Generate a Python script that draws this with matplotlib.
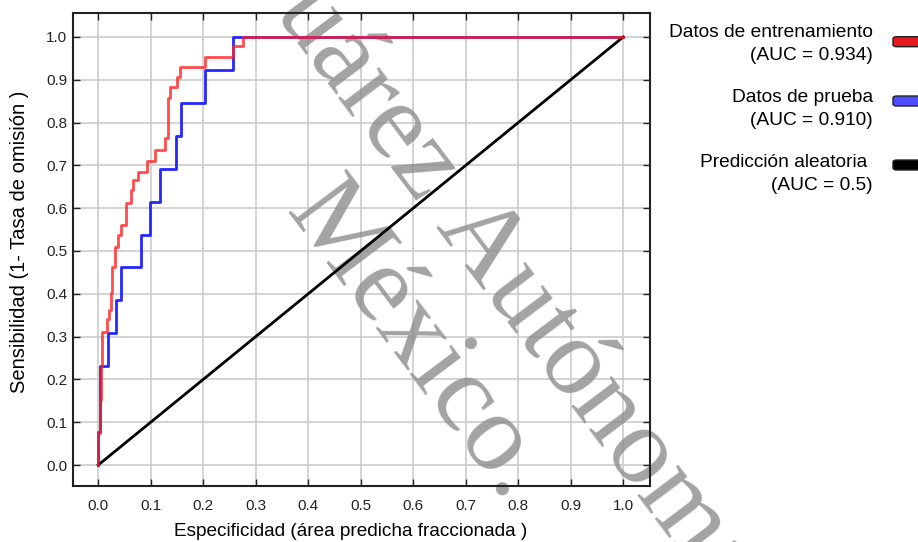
import matplotlib.pyplot as plt
from matplotlib.patches import FancyBboxPatch

W, H = 918, 542

# ROC corners: the curve rises at each fpr from that tpr
# up to the next tpr (drawn with steps-pre)
train_fpr = [0.000, 0.003, 0.005, 0.008, 0.016, 0.020, 0.024, 0.027, 0.032,
             0.037, 0.044, 0.053, 0.062, 0.067, 0.076, 0.092, 0.109, 0.127,
             0.132, 0.136, 0.150, 0.155, 0.203, 0.257, 0.276, 1.000]
train_tpr = [0.000, 0.075, 0.152, 0.230, 0.310, 0.340, 0.362, 0.401, 0.463,
             0.510, 0.537, 0.561, 0.611, 0.643, 0.666, 0.685, 0.710, 0.736,
             0.763, 0.857, 0.884, 0.907, 0.929, 0.954, 0.980, 1.000]

test_fpr = [0.000, 0.004, 0.019, 0.033, 0.044, 0.082, 0.099, 0.117, 0.149,
            0.158, 0.203, 0.256, 1.000]
test_tpr = [0.000, 0.077, 0.231, 0.308, 0.385, 0.462, 0.538, 0.615, 0.692,
            0.769, 0.846, 0.923, 1.000]

random_fpr = [0.0, 1.0]
random_tpr = [0.0, 1.0]

tick_values = [0.0, 0.1, 0.2, 0.3, 0.4, 0.5, 0.6, 0.7, 0.8, 0.9, 1.0]

series_names = ["Datos de entrenamiento", "Datos de prueba", "Predicción aleatoria "]
auc_labels = ["(AUC = 0.934)", "(AUC = 0.910)", "(AUC = 0.5)"]
line_colors = ["#ff1f1f", "#2626ff", "#000000"]
patch_colors = ["#e8191e", "#4d4dff", "#000000"]

watermark_line1 = ("Universidad Juárez ", "Autónoma de Tabasco")
watermark_line2 = "México."


def fx(px):
    return px / W


def fy(py):
    return 1 - py / H


plt.rcParams['font.family'] = ['Liberation Sans', 'DejaVu Sans']

fig = plt.figure(figsize=(W / 100, H / 100), dpi=100)
ax = fig.add_axes([fx(73), fy(486), fx(650) - fx(73), fy(13) - fy(486)])

ax.plot(test_fpr, test_tpr, drawstyle="steps-pre", color=line_colors[1], lw=2, zorder=3)
ax.plot(train_fpr, train_tpr, drawstyle="steps-pre", color=line_colors[0], lw=2,
        alpha=0.8, zorder=4)
ax.plot(random_fpr, random_tpr, color=line_colors[2], lw=2, zorder=3)

ax.set_xlim(-0.048, 1.051)
ax.set_ylim(-0.049, 1.056)
ax.set_xticks(tick_values)
ax.set_yticks(tick_values)
ax.set_xticklabels([f"{v:.1f}" for v in tick_values])
ax.set_yticklabels([f"{v:.1f}" for v in tick_values])
ax.tick_params(direction="in", length=5, width=1, top=True, right=True,
               labelsize=11, colors="#222222")
ax.tick_params(axis="x", pad=9)
ax.tick_params(axis="y", pad=4)
ax.grid(True, color="#cccccc", lw=1.2)
ax.set_axisbelow(True)
for sp in ax.spines.values():
    sp.set_linewidth(1.5)
    sp.set_color("#222222")

fig.text(fx(351), fy(531), "Especificidad (área predicha fraccionada )",
         ha="center", va="center", fontsize=13.7)
fig.text(fx(20), fy(242), "Sensibilidad (1- Tasa de omisión )",
         ha="center", va="center", rotation=90, fontsize=14.5)

# legend drawn by hand on the right, patches run off the edge
first_base = [36.7, 102, 166.7]
patch_mid = [41.7, 101, 165]
for name, auc, col, b, pm in zip(series_names, auc_labels, patch_colors, first_base, patch_mid):
    fig.text(fx(873), fy(b), name, ha="right", va="baseline", fontsize=13.8)
    fig.text(fx(873), fy(b + 23), auc, ha="right", va="baseline", fontsize=13.8)
    fig.patches.append(FancyBboxPatch((fx(893), fy(pm + 5)), fx(40), 10 / H,
                                      boxstyle="round,pad=0,rounding_size=0.004",
                                      transform=fig.transFigure, figure=fig,
                                      facecolor=col, edgecolor="#222222", lw=1))

# watermark
wm = dict(fontsize=80, family="Liberation Serif", color="#8c8c8c", alpha=0.8,
          rotation=-53, rotation_mode="anchor", va="baseline", zorder=1.5,
          transform=fig.transFigure, clip_on=False)
ax.text(fx(435), fy(226), watermark_line1[0], ha="right", **wm)
ax.text(fx(435), fy(226), watermark_line1[1], ha="left", **wm)
ax.text(fx(284), fy(212), watermark_line2, ha="left", **wm)

fig.savefig("out.png", dpi=100)
